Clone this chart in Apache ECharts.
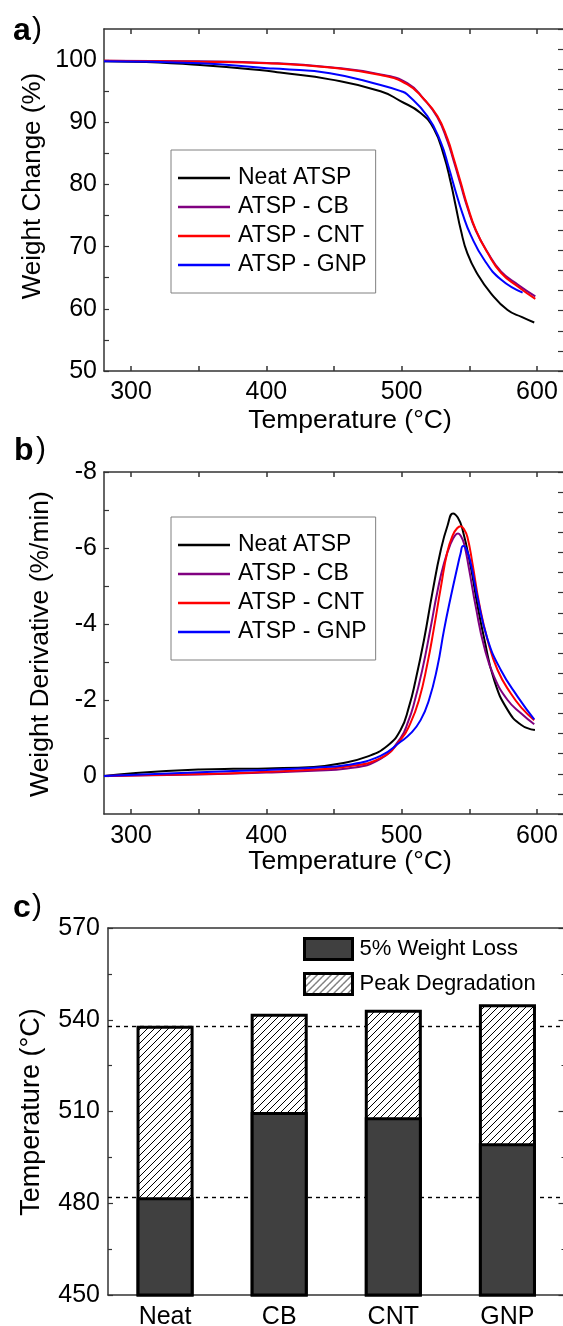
<!DOCTYPE html>
<html><head><meta charset="utf-8">
<script src="https://cdn.jsdelivr.net/npm/echarts@6/dist/echarts.min.js"></script>
<style>html,body{margin:0;padding:0;background:#fff}#c{width:563px;height:1326px}</style>
</head><body><div id="c"></div>
<script>
// ---------- data ----------
const seriesNames = ['Neat ATSP', 'ATSP - CB', 'ATSP - CNT', 'ATSP - GNP'];
const seriesColors = ['#000000', '#800080', '#ff0000', '#0000ff'];

// a) TGA weight change (%) : temperature (°C) / weight (%)
const tgaNeatT = [280,301.5,351,400.4,410,447,484.4,499.2,514,523.9,531.3,536.3,540,543.7,548.6,556,566,578.3,588.6,598];
const tgaNeatW = [99.8,99.75,99.2,98.3,98.0,96.9,95.0,93.4,91.5,88.9,84.6,80.3,76.5,72.7,68.9,65.6,62.5,59.8,58.7,57.8];
const tgaCBT   = [280,351,400.4,447,484.4,504.2,516.5,526.4,533.8,538.7,543.7,548.6,554.8,563.5,573.4,585.8,598.8];
const tgaCBW   = [99.9,99.8,99.55,98.85,97.7,96.3,93.7,90.8,87.0,83.6,79.9,76.3,72.6,69.1,66.0,63.9,62.0];
const tgaCNTT  = [280,351,400.4,447,484.4,504.2,516.5,526.4,533.8,538.7,543.7,548.6,554.8,563.5,573.4,585.8,598.8];
const tgaCNTW  = [99.9,99.75,99.5,98.8,97.6,96.1,93.7,91.0,87.4,84.0,80.3,76.6,72.7,69.0,65.8,63.6,61.6];
const tgaGNPT  = [280,351,400.4,410,447,484.4,499.6,504,519,528.9,535,540,545,551,561,573.4,589.4];
const tgaGNPW  = [99.8,99.5,98.7,98.6,97.9,96.0,95.0,94.5,91.0,86.8,82.6,78.8,75.3,71.9,67.9,64.7,62.6];

// b) DTG weight derivative (%/min) : temperature (°C) / derivative
const dtgNeatT = [280,301.5,326,351,375.6,400.4,435,454.7,474.5,489.3,499.2,505.4,510.3,516.5,522.7,528.9,534,538,541.5,544.9,551.1,556,561,568.4,578.3,588.2,598.5];
const dtgNeatD = [0.0,-0.07,-0.13,-0.17,-0.19,-0.2,-0.24,-0.33,-0.51,-0.79,-1.21,-1.82,-2.52,-3.58,-4.82,-5.94,-6.6,-6.91,-6.8,-6.5,-5.5,-4.5,-3.62,-2.52,-1.74,-1.35,-1.21];
const dtgCBT   = [280,351,400,435,459.7,484.4,499.2,505,509.1,515.3,521.4,526.4,531.3,536.3,539.5,541.7,544,546.1,549.8,554.8,561,568.4,578.3,588.2,598];
const dtgCBD   = [0.0,-0.04,-0.09,-0.14,-0.2,-0.45,-1.0,-1.45,-1.9,-2.8,-3.9,-4.85,-5.6,-6.12,-6.33,-6.38,-6.3,-6.12,-5.45,-4.45,-3.4,-2.61,-2.0,-1.65,-1.36];
const dtgCNTT  = [280,351,400,435,459.7,484.4,499.2,506.6,512.8,519,523.9,528.9,533.8,538,541,543.7,546,548.6,552.3,557.3,563.5,570.9,580.7,589,598];
const dtgCNTD  = [0.0,-0.05,-0.11,-0.17,-0.25,-0.47,-0.95,-1.4,-2.0,-2.95,-3.9,-4.95,-5.9,-6.35,-6.52,-6.57,-6.5,-6.29,-5.6,-4.54,-3.58,-2.79,-2.17,-1.78,-1.47];
const dtgGNPT  = [280,351,400,435,459.7,484.4,499.2,506.6,514,520.2,526.4,531.3,536.3,541.2,543.5,545.4,547.5,551.1,556,563.5,573.3,585.7,598];
const dtgGNPD  = [0.0,-0.1,-0.16,-0.22,-0.29,-0.53,-0.9,-1.12,-1.47,-2.0,-2.87,-3.84,-4.71,-5.5,-5.85,-6.05,-6.0,-5.59,-4.71,-3.6,-2.79,-2.09,-1.49];

// c) characteristic temperatures (°C)
const barCategories = ['Neat', 'CB', 'CNT', 'GNP'];
const weightLoss5 = [482.0, 509.8, 508.1, 499.6];
const peakDegradation = [538.0, 542.0, 543.3, 545.1];
const barNames = ['5% Weight Loss', 'Peak Degradation'];

// tick labels
const tempTicks = [300, 400, 500, 600];
const tempMinorTicks = [300, 350, 400, 450, 500, 550, 600];
const weightTicks = [50, 60, 70, 80, 90, 100];
const weightMinorTicks = [50, 55, 60, 65, 70, 75, 80, 85, 90, 95, 100];
const derivTicks = [-8, -6, -4, -2, 0];
const derivMinorTicks = [-8, -7, -6, -5, -4, -3, -2, -1, 0];
const mirrorTicks = [0,1,2,3,4,5,6,7,8,9,10,11,12,13,14,15,16,17];

// ---------- helpers ----------
const FONT = 'Liberation Sans, Arial, sans-serif';
const AX = '#333333';
const zip = (xs, ys) => xs.map((x, i) => [x, ys[i]]);

function hatchCanvas() {
  const s = 7;
  const c = document.createElement('canvas');
  c.width = s; c.height = s;
  const g = c.getContext('2d');
  g.fillStyle = '#ffffff'; g.fillRect(0, 0, s, s);
  g.strokeStyle = '#000000'; g.lineWidth = 1;
  g.beginPath();
  g.moveTo(0, s); g.lineTo(s, 0);
  g.moveTo(-1, 1); g.lineTo(1, -1);
  g.moveTo(s - 1, s + 1); g.lineTo(s + 1, s - 1);
  g.stroke();
  return c;
}
const hatch = { image: hatchCanvas(), repeat: 'repeat' };

function valueX(grid, pos, showLabels, margin) {
  return {
    type: 'value', gridIndex: grid, position: pos, min: 280, max: 620,
    axisLine: { show: true, onZero: false, lineStyle: { color: AX, width: 1.5 } },
    axisTick: { show: true, inside: true, length: 5, customValues: tempMinorTicks, lineStyle: { color: AX, width: 1.5 } },
    axisLabel: showLabels ? { show: true, customValues: tempTicks, fontSize: 25, fontFamily: FONT, color: '#000', margin: margin } : { show: false },
    splitLine: { show: false }
  };
}
function mirrorY(grid) {
  return {
    type: 'value', gridIndex: grid, position: 'right', min: 0, max: 17,
    axisLine: { show: true, onZero: false, lineStyle: { color: AX, width: 1.5 } },
    axisTick: { show: true, inside: true, length: 6, customValues: mirrorTicks, lineStyle: { color: AX, width: 1.2 } },
    axisLabel: { show: false }, splitLine: { show: false }
  };
}
function lineLegend(top) {
  return {
    data: seriesNames, orient: 'vertical', left: 171, top: top,
    padding: [16, 9, 16, 7], itemWidth: 52, itemHeight: 2.5, itemGap: 5, icon: 'rect',
    backgroundColor: '#ffffff', borderColor: '#808080', borderWidth: 1,
    textStyle: { fontSize: 23, fontFamily: FONT, color: '#000', lineHeight: 24, padding: [0, 0, 0, 3] },
    selectedMode: false
  };
}
function lineSeries(xi, yi, pairs) {
  return pairs.map((p, i) => ({
    name: seriesNames[i], type: 'line', xAxisIndex: xi, yAxisIndex: yi,
    data: zip(p[0], p[1]), symbol: 'none', showSymbol: false,
    smooth: 0.5,
    lineStyle: { color: seriesColors[i], width: 2 }, itemStyle: { color: seriesColors[i] },
    z: 3 + i
  }));
}
function txt(x, y, text, size, opts) {
  opts = opts || {};
  return {
    type: 'text', x: x, y: y, rotation: opts.rotation || 0, z: 100,
    style: {
      text: text, fill: '#000', font: (opts.bold ? 'bold ' : '') + size + 'px ' + FONT,
      align: opts.align || 'center', verticalAlign: 'middle',
      textAlign: opts.align || 'center', textVerticalAlign: 'middle'
    }
  };
}

const option = {
  animation: false,
  backgroundColor: '#ffffff',
  textStyle: { fontFamily: FONT },
  grid: [
    { left: 104, top: 29, right: -1, height: 342, containLabel: false, outerBoundsMode: 'none' },
    { left: 104, top: 472, right: -1, height: 342, containLabel: false, outerBoundsMode: 'none' },
    { left: 108, top: 928, right: -1.5, height: 367, containLabel: false, outerBoundsMode: 'none' }
  ],
  xAxis: [
    valueX(0, 'bottom', true, 9),
    valueX(0, 'top', false),
    valueX(1, 'bottom', true, 10),
    valueX(1, 'top', false),
    {
      type: 'category', gridIndex: 2, position: 'bottom', data: barCategories,
      axisLine: { show: true, onZero: false, lineStyle: { color: AX, width: 1.5 } },
      axisTick: { show: false },
      axisLabel: { fontSize: 25, fontFamily: FONT, color: '#000', margin: 10 }
    },
    {
      type: 'category', gridIndex: 2, position: 'top', data: barCategories,
      axisLine: { show: true, onZero: false, lineStyle: { color: AX, width: 1.5 } },
      axisTick: { show: false }, axisLabel: { show: false }
    }
  ],
  yAxis: [
    {
      type: 'value', gridIndex: 0, position: 'left', min: 50, max: 105,
      axisLine: { show: true, onZero: false, lineStyle: { color: AX, width: 1.5 } },
      axisTick: { show: true, inside: true, length: 5, customValues: weightMinorTicks, lineStyle: { color: AX, width: 1.2 } },
      axisLabel: { customValues: weightTicks, fontSize: 25, fontFamily: FONT, color: '#000', margin: 7 },
      splitLine: { show: false }
    },
    mirrorY(0),
    {
      type: 'value', gridIndex: 1, position: 'left', min: -8, max: 1, inverse: true,
      axisLine: { show: true, onZero: false, lineStyle: { color: AX, width: 1.5 } },
      axisTick: { show: true, inside: true, length: 5, customValues: derivMinorTicks, lineStyle: { color: AX, width: 1.2 } },
      axisLabel: { customValues: derivTicks, fontSize: 25, fontFamily: FONT, color: '#000', margin: 7 },
      splitLine: { show: false }
    },
    mirrorY(1),
    {
      type: 'value', gridIndex: 2, position: 'left', min: 450, max: 570, interval: 30,
      axisLine: { show: true, onZero: false, lineStyle: { color: AX, width: 1.5 } },
      axisTick: { show: true, inside: true, length: 5, lineStyle: { color: AX, width: 1.2 } },
      minorTick: { show: true, splitNumber: 2, length: 4, lineStyle: { color: AX, width: 1.2 } },
      axisLabel: { fontSize: 25, fontFamily: FONT, color: '#000', margin: 8 },
      splitLine: { show: false }
    },
    {
      type: 'value', gridIndex: 2, position: 'right', min: 450, max: 570, interval: 30,
      axisLine: { show: true, onZero: false, lineStyle: { color: AX, width: 1.5 } },
      axisTick: { show: true, inside: true, length: 6, lineStyle: { color: AX, width: 1.2 } },
      minorTick: { show: true, splitNumber: 2, length: 3, lineStyle: { color: AX, width: 1.2 } },
      axisLabel: { show: false }, splitLine: { show: false }
    }
  ],
  legend: [
    lineLegend(150),
    lineLegend(517),
    {
      data: barNames, orient: 'vertical', left: 303, top: 937, padding: 0,
      itemWidth: 48, itemHeight: 21, itemGap: 11, icon: 'rect',
      itemStyle: { borderColor: '#000', borderWidth: 3 },
      textStyle: { fontSize: 22, fontFamily: FONT, color: '#000', lineHeight: 24, padding: [0, 0, 0, 2] },
      selectedMode: false
    }
  ],
  series: [
    ...lineSeries(0, 0, [[tgaNeatT, tgaNeatW], [tgaCBT, tgaCBW], [tgaCNTT, tgaCNTW], [tgaGNPT, tgaGNPW]]),
    ...lineSeries(2, 2, [[dtgNeatT, dtgNeatD], [dtgCBT, dtgCBD], [dtgCNTT, dtgCNTD], [dtgGNPT, dtgGNPD]]),
    {
      name: 'refLines', type: 'line', xAxisIndex: 4, yAxisIndex: 4, data: [], z: 1,
      markLine: {
        silent: true, symbol: ['none', 'none'], z: 1, label: { show: false },
        lineStyle: { type: [4, 4], color: '#000', width: 1.4 },
        data: [{ yAxis: weightLoss5[0] }, { yAxis: peakDegradation[0] }]
      }
    },
    {
      name: barNames[1], type: 'bar', xAxisIndex: 4, yAxisIndex: 4, data: peakDegradation,
      barWidth: '50%', barGap: '-100%', clip: true, z: 3,
      itemStyle: { color: hatch, borderColor: '#000', borderWidth: 3 }
    },
    {
      name: barNames[0], type: 'bar', xAxisIndex: 4, yAxisIndex: 4, data: weightLoss5,
      barWidth: '50%', barGap: '-100%', clip: true, z: 4,
      itemStyle: { color: '#404040', borderColor: '#000', borderWidth: 3 }
    }
  ],
  graphic: [
    txt(13, 31, 'a', 32, { bold: true, align: 'left' }),
    txt(32, 30, ')', 30, { align: 'left' }),
    txt(14, 451, 'b', 32, { bold: true, align: 'left' }),
    txt(36, 450, ')', 30, { align: 'left' }),
    txt(13, 908, 'c', 32, { bold: true, align: 'left' }),
    txt(32, 907, ')', 30, { align: 'left' }),
    txt(33, 186, 'Weight Change (%)', 26, { rotation: Math.PI / 2 }),
    txt(350, 421, 'Temperature (°C)', 26.5),
    txt(41, 644, 'Weight Derivative (%/min)', 26.5, { rotation: Math.PI / 2 }),
    txt(350, 862, 'Temperature (°C)', 26.5),
    txt(32, 1112, 'Temperature (°C)', 27, { rotation: Math.PI / 2 })
  ]
};

const chart = echarts.init(document.getElementById('c'), null, { renderer: 'canvas' });
chart.setOption(option);
</script>
</body></html>
